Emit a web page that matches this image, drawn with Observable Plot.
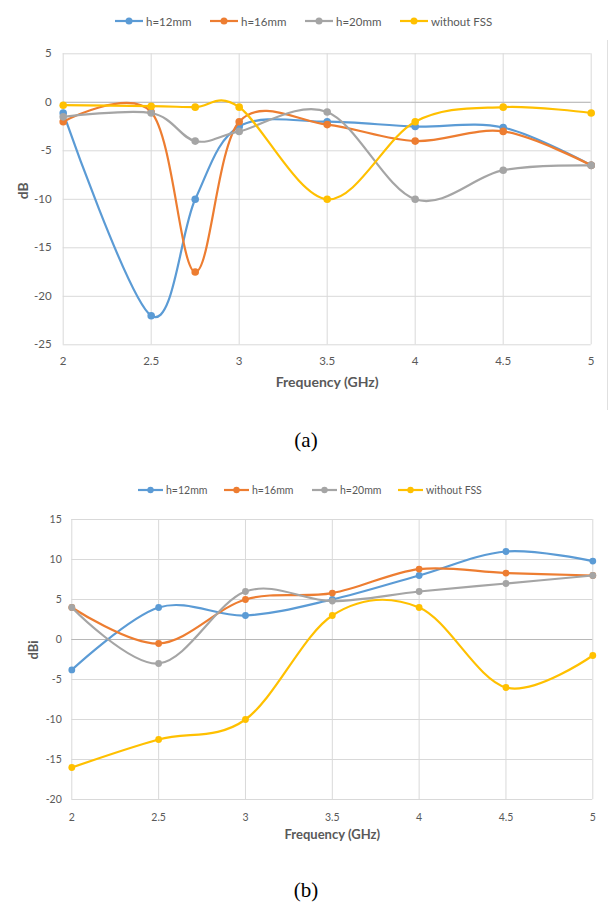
<!DOCTYPE html>
<html><head><meta charset="utf-8">
<script src="https://cdn.jsdelivr.net/npm/d3@7"></script>
<script src="https://cdn.jsdelivr.net/npm/@observablehq/plot@0.6"></script>
<style>
body{margin:0;background:#fff;font-family:Lato,sans-serif;}
#page{position:relative;width:612px;height:905px;overflow:hidden;background:#fff}
.item{position:absolute;display:flex;align-items:center;white-space:nowrap;color:#595959;height:14px}
.item svg{display:block;margin-right:3px}
.cap{position:absolute;left:0;width:612px;text-align:center;font-family:"Liberation Serif",serif;font-size:21px;line-height:24px;color:#000}
.svgbox{position:absolute;left:0}
</style></head><body><div id="page"></div><script>
// ---- data ----
const seriesNames = ["h=12mm", "h=16mm", "h=20mm", "without FSS"];
const colors = ["#5B9BD5", "#ED7D31", "#A5A5A5", "#FFC000"];

// (a) reflection, dB
const freqA = [2, 2.5, 2.75, 3, 3.5, 4, 4.5, 5];
const h12A = [-1.1, -22, -10, -2.5, -2, -2.5, -2.6, -6.5];
const h16A = [-2, -1, -17.5, -2, -2.3, -4, -3, -6.5];
const h20A = [-1.5, -1.1, -4, -3, -1, -10, -7, -6.5];
const noFssA = [-0.3, -0.4, -0.5, -0.5, -10, -2, -0.5, -1.1];
const xTicksA = [2, 2.5, 3, 3.5, 4, 4.5, 5];
const yTicksA = [5, 0, -5, -10, -15, -20, -25];

// (b) gain, dBi
const freqB = [2, 2.5, 3, 3.5, 4, 4.5, 5];
const h12B = [-3.8, 4, 3, 5, 8, 11, 9.8];
const h16B = [4, -0.5, 5, 5.8, 8.8, 8.3, 8];
const h20B = [4, -3, 6, 4.8, 6, 7, 8];
const noFssB = [-16, -12.5, -10, 3, 4, -6, -2];
const xTicksB = [2, 2.5, 3, 3.5, 4, 4.5, 5];
const yTicksB = [15, 10, 5, 0, -5, -10, -15, -20];

const page = document.getElementById("page");

function chart(o) {
  const marks = [
    Plot.gridX(o.xTicks, {stroke: "#d9d9d9", strokeOpacity: 1}),
    Plot.gridY(o.yTicks, {stroke: "#d9d9d9", strokeOpacity: 1}),
    Plot.ruleY([0], {stroke: "#b8b8b8", strokeWidth: 1}),
    Plot.axisX(o.xTicks, {tickSize: 0, tickPadding: o.padX, label: null, fill: "#595959", fontSize: o.fs, tickFormat: d => String(d)}),
    Plot.axisY(o.yTicks, {tickSize: 0, tickPadding: o.padY, label: null, fill: "#595959", fontSize: o.fs, tickFormat: d => String(d)})
  ];
  o.series.forEach((vals, k) => {
    const rows = vals.map((v, i) => ({f: o.freq[i], v}));
    marks.push(Plot.line(rows, {x: "f", y: "v", stroke: colors[k], strokeWidth: 2.2, curve: "cardinal"}));
    marks.push(Plot.dot(rows, {x: "f", y: "v", fill: colors[k], r: o.r, stroke: "none"}));
  });
  marks.push(Plot.text([o.xlabel], {text: d => d, frameAnchor: "bottom", dy: o.xlabelDy, fontWeight: "bold", fontSize: o.titleFs, fill: "#595959"}));
  marks.push(Plot.text([o.ylabel], {text: d => d, frameAnchor: "left", dx: o.ylabelDx, rotate: -90, fontWeight: "bold", fontSize: o.titleFs, fill: "#595959"}));
  const svg = Plot.plot({
    width: 612, height: o.height,
    marginTop: o.mt, marginRight: o.mr, marginBottom: o.mb, marginLeft: o.ml,
    x: {domain: [2, 5]},
    y: {domain: o.yDomain},
    style: {fontFamily: "Lato, sans-serif", background: "transparent", overflow: "visible"},
    marks
  });
  const box = document.createElement("div");
  box.className = "svgbox";
  box.style.top = o.top + "px";
  box.appendChild(svg);
  page.appendChild(box);
}

function legend(top, starts, len, fs, r) {
  seriesNames.forEach((name, k) => {
    const d = document.createElement("div");
    d.className = "item";
    d.style.left = starts[k] + "px";
    d.style.top = (top - 7) + "px";
    d.style.fontSize = fs + "px";
    d.innerHTML = `<svg width="${len}" height="10"><line x1="0" x2="${len}" y1="5" y2="5" stroke="${colors[k]}" stroke-width="2.2"/><circle cx="${len/2}" cy="5" r="${r}" fill="${colors[k]}"/></svg><span>${name}</span>`;
    page.appendChild(d);
  });
}

// chart (a)
legend(21, [115, 210, 305, 400], 28, 11.5, 3.5);
chart({
  top: 0, height: 410, mt: 53.3, mr: 21.3, mb: 65.7, ml: 62.7,
  freq: freqA, series: [h12A, h16A, h20A, noFssA],
  xTicks: xTicksA, yTicks: yTicksA, yDomain: [-25, 5],
  fs: 11.5, padX: 12, padY: 11.5, r: 3.8,
  xlabel: "Frequency (GHz)", xlabelDy: 42, ylabel: "dB", ylabelDx: -40, titleFs: 14
});
const edge = document.createElement("div");
edge.style.cssText = "position:absolute;left:607px;top:40px;width:1px;height:370px;background:#e0e0e0";
page.appendChild(edge);
const capA = document.createElement("div");
capA.className = "cap"; capA.style.top = "428px"; capA.textContent = "(a)";
page.appendChild(capA);

// chart (b)
legend(490, [138, 224, 312, 398], 25, 10.5, 3.2);
chart({
  top: 470, height: 380, mt: 49, mr: 19.7, mb: 51, ml: 71.3,
  freq: freqB, series: [h12B, h16B, h20B, noFssB],
  xTicks: xTicksB, yTicks: yTicksB, yDomain: [-20, 15],
  fs: 10.5, padX: 14, padY: 10, r: 3.4,
  xlabel: "Frequency (GHz)", xlabelDy: 39, ylabel: "dBi", ylabelDx: -38, titleFs: 13
});
const capB = document.createElement("div");
capB.className = "cap"; capB.style.top = "878px"; capB.textContent = "(b)";
page.appendChild(capB);
</script></body></html>
